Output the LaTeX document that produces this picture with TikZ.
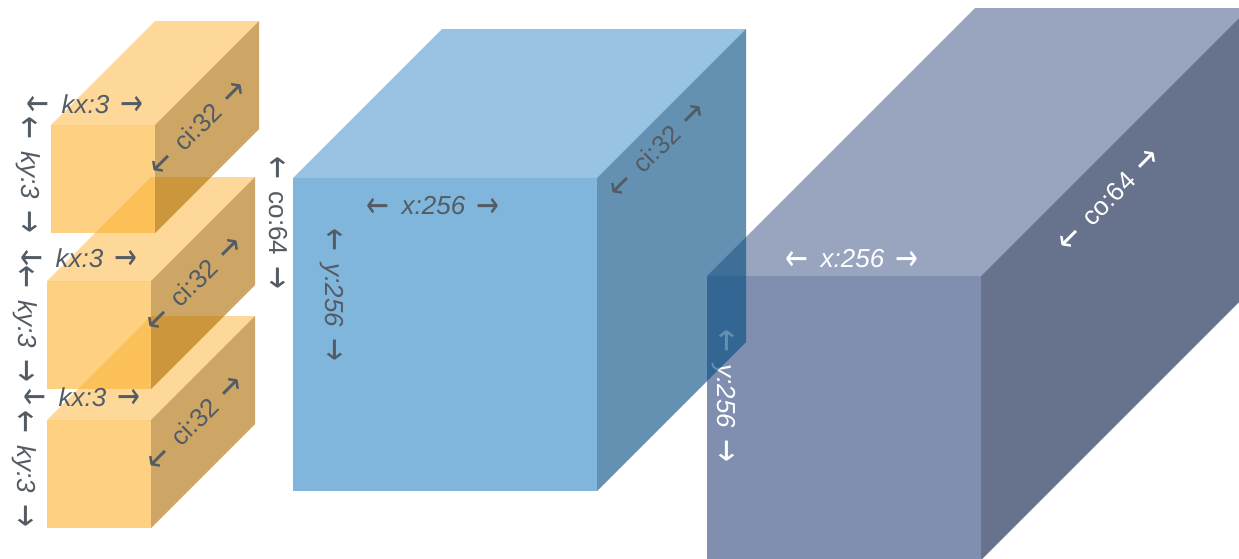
\documentclass[tikz,border=0pt]{standalone}
\usepackage{graphicx}
\usepackage{fontspec}
\setmainfont{Liberation Sans}
\newfontfamily\arrowfont{DejaVu Sans}[Scale=1.0]
\definecolor{labgray}{RGB}{83,92,101}
\definecolor{otop}{RGB}{253,216,152}
\definecolor{ofront}{RGB}{252,177,47}
\definecolor{oright}{RGB}{172,107,0}
\definecolor{btop}{RGB}{152,195,226}
\definecolor{bfront}{RGB}{128,181,220}
\definecolor{bright}{RGB}{5,78,129}
\definecolor{ptop}{RGB}{153,165,191}
\definecolor{pfront}{RGB}{128,143,176}
\definecolor{pright}{RGB}{103,115,141}
\newcommand{\bigarr}[1]{\raisebox{-0.1em}{\scalebox{1.05}[1.4]{\arrowfont #1}}}
\newcommand{\dimlab}[1]{\bigarr{←}\hspace{12pt}#1\hspace{11pt}\bigarr{→}}
\begin{document}
\begin{tikzpicture}[x=1pt,y=-1pt,
  lab/.style={font=\fontsize{26}{26}\selectfont, text=labgray, inner sep=0pt},
  wlab/.style={lab, text=white},
  otopface/.style={fill=otop},
  ofrontface/.style={fill=ofront, fill opacity=0.6},
  orightface/.style={fill=oright, fill opacity=0.6}]
\useasboundingbox (0,0) rectangle (1239,558);
\clip (0,0) rectangle (1239,558);
% ---- purple output volume ----
\fill[ptop] (707,276) -- (981,276) -- (1249,8) -- (975,8) -- cycle;
\fill[pfront] (707,276) rectangle (981,560);
\fill[pright] (981,276) -- (1249,8) -- (1249,292) -- (981,560) -- cycle;
\node[wlab] (px) at (852,260) {\dimlab{\itshape x:256}};
\node[wlab, rotate=-90] (py) at (724,396) {\dimlab{\itshape y:256}};
\node[wlab, rotate=45] (pc) at (1109,200) {\dimlab{co:64}};
% ---- blue input volume ----
\fill[btop] (293,178) -- (597,178) -- (746,29) -- (442,29) -- cycle;
\fill[bfront] (293,178) rectangle (597,491);
\fill[bright, fill opacity=0.62] (597,178) -- (746,29) -- (746,342) -- (597,491) -- cycle;
\node[lab] (bx) at (433,207) {\dimlab{\itshape x:256}};
\node[lab, rotate=-90] (by) at (332,295) {\dimlab{\itshape y:256}};
\node[lab, rotate=45] (bc) at (657,150) {\dimlab{ci:32}};
\node[lab, rotate=-90] (kco) at (277,223) {\dimlab{co:64}};
% ---- orange kernels (bottom first) ----
% box 3
\fill[otopface] (47,420) -- (151,420) -- (255,316) -- (151,316) -- cycle;
\fill[ofrontface] (47,420) rectangle (151,528);
\fill[orightface] (151,420) -- (255,316) -- (255,424) -- (151,528) -- cycle;
% box 2
\fill[otopface] (47,281) -- (151,281) -- (255,177) -- (151,177) -- cycle;
\fill[ofrontface] (47,281) rectangle (151,389);
\fill[orightface] (151,281) -- (255,177) -- (255,285) -- (151,389) -- cycle;
% box 1
\fill[otopface] (51,125) -- (155,125) -- (259,21) -- (155,21) -- cycle;
\fill[ofrontface] (51,125) rectangle (155,233);
\fill[orightface] (155,125) -- (259,21) -- (259,129) -- (155,233) -- cycle;
% kernel labels
\node[lab] (k1x) at (85,105) {\dimlab{\itshape kx:3}};
\node[lab, rotate=-90] (k1y) at (28,175) {\dimlab{\itshape ky:3}};
\node[lab, rotate=45] (k1c) at (198,128) {\dimlab{ci:32}};
\node[lab] (k2x) at (79,259) {\dimlab{\itshape kx:3}};
\node[lab, rotate=-90] (k2y) at (25,324) {\dimlab{\itshape ky:3}};
\node[lab, rotate=45] (k2c) at (194,284) {\dimlab{ci:32}};
\node[lab] (k3x) at (82,398) {\dimlab{\itshape kx:3}};
\node[lab, rotate=-90] (k3y) at (24,469) {\dimlab{\itshape ky:3}};
\node[lab, rotate=45] (k3c) at (195,423) {\dimlab{ci:32}};
\end{tikzpicture}
\end{document}
